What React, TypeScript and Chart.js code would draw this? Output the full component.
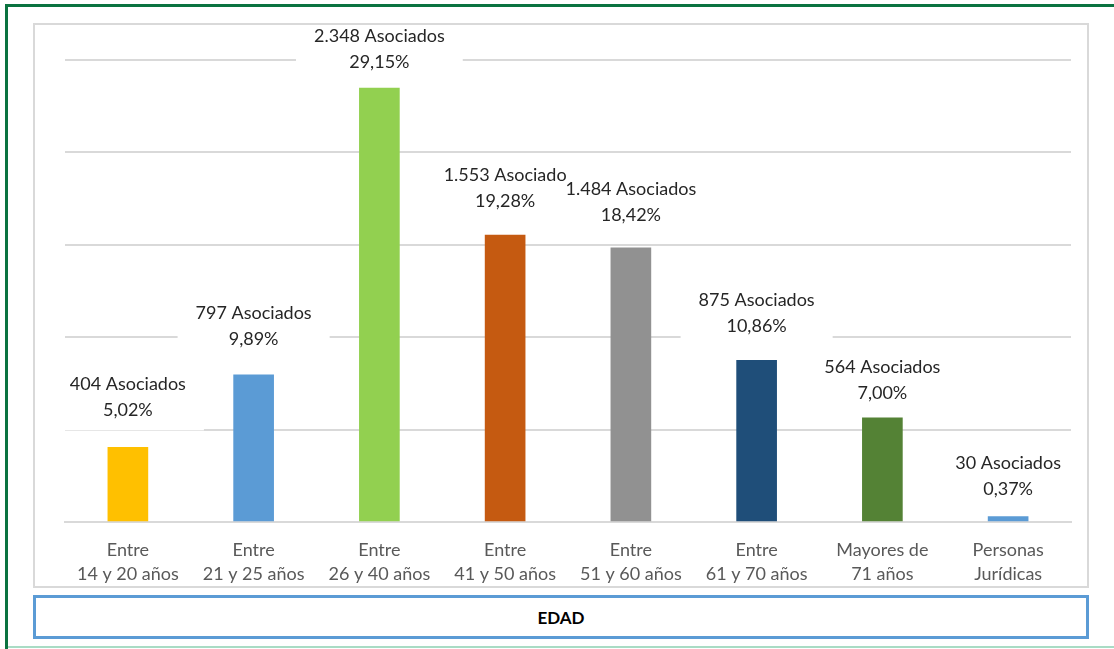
import React, { useEffect, useRef } from "react";
import { Chart, registerables } from "chart.js";

Chart.register(...registerables);

const categories: string[][] = [
  ["Entre", "14 y 20 años"],
  ["Entre", "21 y 25 años"],
  ["Entre", "26 y 40 años"],
  ["Entre", "41 y 50 años"],
  ["Entre", "51 y 60 años"],
  ["Entre", "61 y 70 años"],
  ["Mayores de", "71 años"],
  ["Personas", "Jurídicas"],
];
const counts: number[] = [404, 797, 2348, 1553, 1484, 875, 564, 30];
const countLabels: string[] = [
  "404 Asociados",
  "797 Asociados",
  "2.348 Asociados",
  "1.553 Asociado",
  "1.484 Asociados",
  "875 Asociados",
  "564 Asociados",
  "30 Asociados",
];
const percentLabels: string[] = ["5,02%", "9,89%", "29,15%", "19,28%", "18,42%", "10,86%", "7,00%", "0,37%"];
const barColors: string[] = ["#FFC000", "#5B9BD5", "#92D050", "#C55A11", "#919191", "#1F4E79", "#548235", "#5B9BD5"];
const yMax = 2500;
const yStep = 500;
const axisTitle = "EDAD";

// style: distance (px) from bar top to second label line centre
const labelLift: number[] = [37, 36, 26, 34, 33, 34, 25, 27];

const FONT = "Lato, 'Open Sans', sans-serif";

const labelPlugin = {
  id: "barLabels",
  afterDatasetsDraw(chart: any) {
    const ctx = chart.ctx as CanvasRenderingContext2D;
    const meta = chart.getDatasetMeta(0);
    ctx.save();
    ctx.font = `18px ${FONT}`;
    const items = meta.data.map((el: any, i: number) => {
      const x = el.x;
      const y2 = el.y - labelLift[i];
      const y1 = y2 - 26;
      const w = Math.max(ctx.measureText(countLabels[i]).width, ctx.measureText(percentLabels[i]).width);
      return { x, y1, y2, w, i };
    });
    ctx.fillStyle = "#ffffff";
    items.forEach(({ x, y1, y2, w }: any) => {
      ctx.fillRect(x - w / 2 - 18, y1 - 16, w + 36, y2 - y1 + 36);
    });
    ctx.fillStyle = "#262626";
    ctx.textAlign = "center";
    ctx.textBaseline = "middle";
    items.forEach(({ x, y1, y2, i }: any) => {
      ctx.fillText(countLabels[i], x, y1);
      ctx.fillText(percentLabels[i], x, y2);
    });
    ctx.restore();
  },
};

export default function App() {
  const canvasRef = useRef<HTMLCanvasElement | null>(null);

  useEffect(() => {
    if (!canvasRef.current) return;
    const chart = new Chart(canvasRef.current, {
      type: "bar",
      data: {
        labels: categories,
        datasets: [
          {
            data: counts,
            backgroundColor: barColors,
            borderWidth: 0,
            barThickness: 40,
          },
        ],
      },
      options: {
        responsive: false,
        animation: false,
        devicePixelRatio: 1,
        layout: { padding: { left: 30, right: 15, top: 35, bottom: 0 } },
        plugins: {
          legend: { display: false },
          tooltip: { enabled: false },
          title: { display: false },
        },
        scales: {
          x: {
            grid: { display: false, drawTicks: false },
            border: { display: true, color: "#d9d9d9", width: 2 },
            ticks: {
              color: "#595959",
              font: { family: FONT, size: 18, lineHeight: 1.333 },
              padding: 16,
              maxRotation: 0,
              autoSkip: false,
            },
          },
          y: {
            min: 0,
            max: yMax,
            ticks: { display: false, stepSize: yStep },
            grid: { color: "#d9d9d9", lineWidth: 2, drawTicks: false },
            border: { display: false },
          },
        },
      },
      plugins: [labelPlugin],
    });
    return () => chart.destroy();
  }, []);

  return (
    <div
      style={{
        position: "fixed",
        left: 0,
        top: 0,
        width: 1114,
        height: 649,
        background: "#ffffff",
        overflow: "hidden",
      }}
    >
      {/* outer green frame */}
      <div style={{ position: "absolute", left: 5, top: 4, width: 1109, height: 3, background: "#0B7340" }} />
      <div style={{ position: "absolute", left: 5, top: 4, width: 3, height: 645, background: "#0B7340" }} />
      <div style={{ position: "absolute", left: 8, top: 646, width: 1106, height: 2, background: "#A9DCC5" }} />
      {/* inner grey chart frame */}
      <div
        style={{
          position: "absolute",
          left: 33,
          top: 23,
          width: 1052,
          height: 561,
          border: "2px solid #d9d9d9",
        }}
      />
      <canvas
        ref={canvasRef}
        width={1051}
        height={577}
        style={{ position: "absolute", left: 35, top: 25, width: 1051, height: 577 }}
      />
      {/* axis title box */}
      <div
        style={{
          position: "absolute",
          left: 33,
          top: 595,
          width: 1050,
          height: 38,
          border: "3px solid #5B9BD5",
          background: "#ffffff",
          display: "flex",
          alignItems: "center",
          justifyContent: "center",
          fontFamily: FONT,
          fontWeight: 700,
          fontSize: 17,
          color: "#000000",
        }}
      >
        {axisTitle}
      </div>
    </div>
  );
}
